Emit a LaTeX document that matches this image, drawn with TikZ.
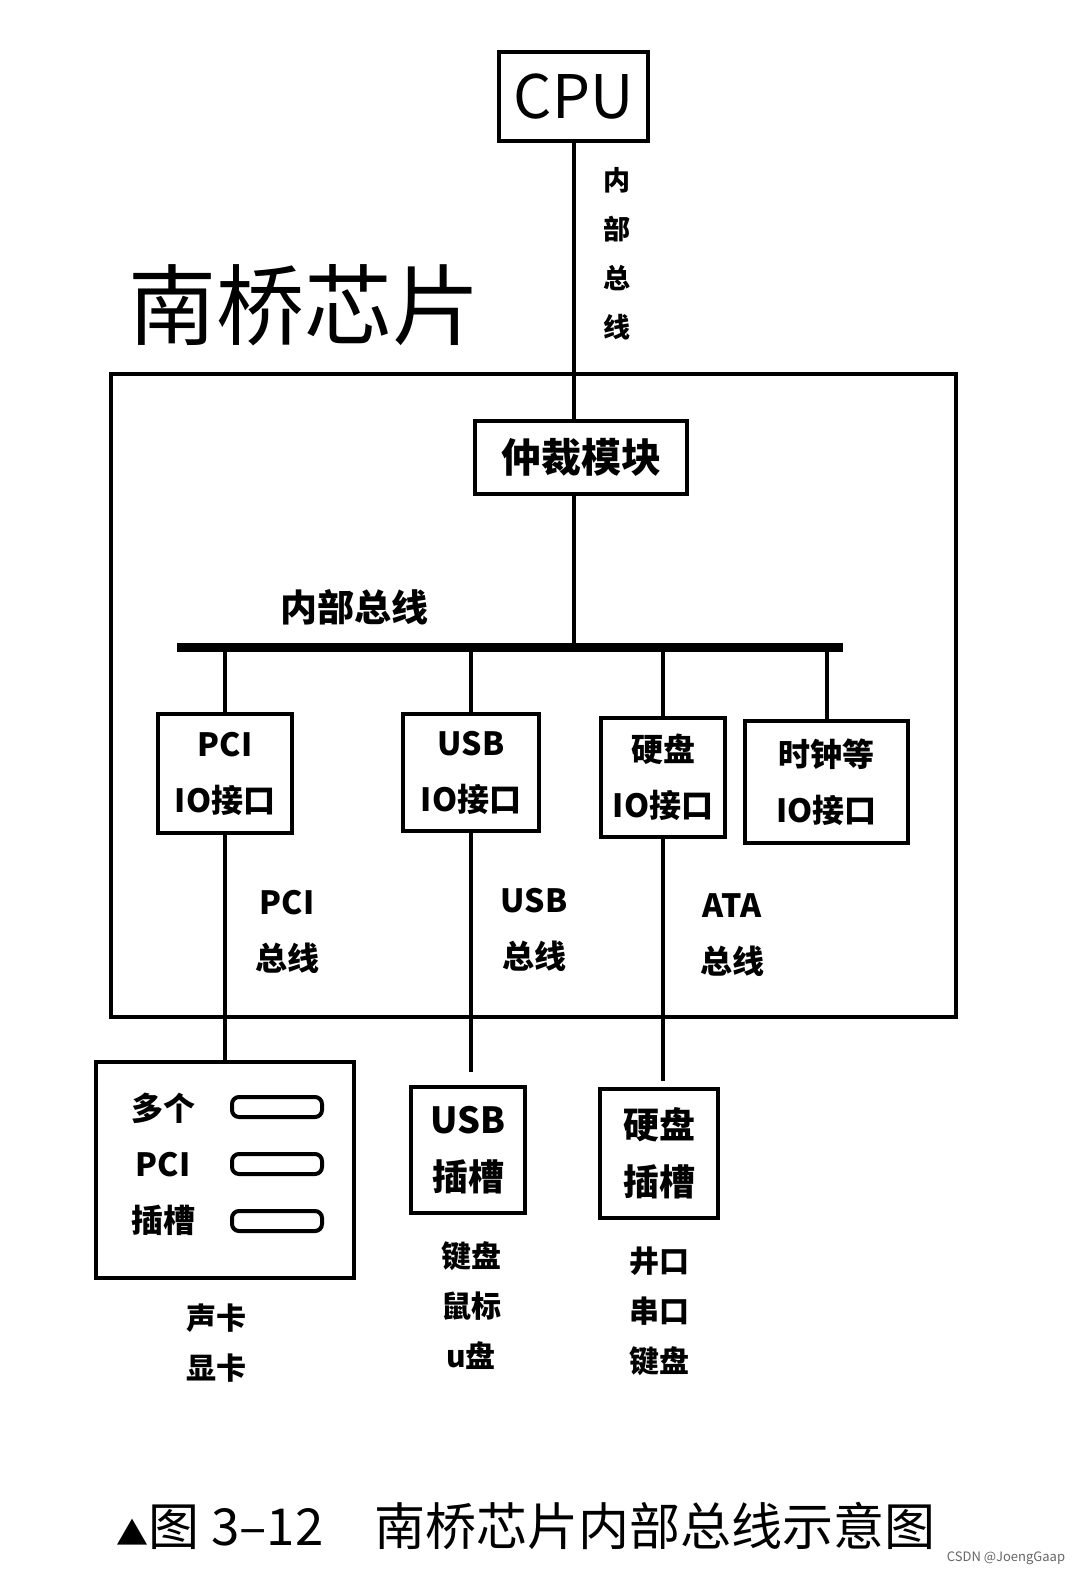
\documentclass[tikz,border=0pt]{standalone}
\usepackage{fontspec}
\setmainfont{Noto Sans CJK SC}
\usetikzlibrary{positioning}

\begin{document}
\begin{tikzpicture}[x=1pt,y=-1pt,
    box/.style={draw,line width=4.5pt,inner sep=0pt,align=center},
    wire/.style={line width=4pt},
    tag/.style={align=center,inner sep=0pt,font=\bfseries\fontsize{32}{56}\selectfont},
    slotbar/.style={draw,line width=4pt,rounded corners=7pt,minimum width=90pt,minimum height=20pt}]
\useasboundingbox[fill=white] (0,0) rectangle (1091,1578);
% CPU and the chip outline
\node[box,minimum width=149pt,minimum height=89pt,font=\fontsize{60}{60}\selectfont] (cpu) at (573.5,96.5) {CPU};
\node[align=center,inner sep=0pt,font=\bfseries\fontsize{27}{49}\selectfont] (cpubus) at (617,254) {内\\部\\总\\线};
\node[inner sep=0pt,font=\fontsize{88}{88}\selectfont] (title) at (304,305) {南桥芯片};
\node[box,minimum width=845pt,minimum height=643pt] (chip) at (533.5,695.5) {};
\node[box,minimum width=212pt,minimum height=73pt,font=\bfseries\fontsize{40}{40}\selectfont] (arb) at (581,457.5) {仲裁模块};
\draw[wire] (cpu.south) -- (cpu.south |- arb.north);

% internal bus
\coordinate (busL) at (177,647);
\coordinate (busR) at (843,647);
\draw[line width=9pt] (busL) -- (busR);
\node[tag,font=\bfseries\fontsize{37}{37}\selectfont] (buslbl) at (354,607) {内部总线};
\draw[wire] (arb.south -| cpu.south) -- (cpu.south |- busL);

% IO interfaces
\node[box,tag,minimum width=134pt,minimum height=119pt] (pciio) at (225,773.5) {PCI\\IO接口};
\node[box,tag,minimum width=136pt,minimum height=117pt] (usbio) at (471,772.5) {USB\\IO接口};
\node[box,tag,minimum width=124pt,minimum height=119pt] (hddio) at (663,777.5) {硬盘\\IO接口};
\node[box,tag,minimum width=163pt,minimum height=122pt] (clkio) at (826.5,782) {时钟等\\IO接口};
\foreach \io in {pciio,usbio,hddio,clkio}
    \draw[wire] (\io.north |- busL) -- (\io.north);

% bus names
\node[tag] (pcibus) at (287,932) {PCI\\总线};
\node[tag] (usbbus) at (534,930) {USB\\总线};
\node[tag] (atabus) at (732,935) {ATA\\总线};

% slots outside the chip
\node[box,minimum width=258pt,minimum height=216pt] (pcislot) at (225,1170) {};
\node[tag] (pcitxt) at (163,1164) {多个\\PCI\\插槽};
\node[slotbar] (bar1) at (277,1107) {};
\node[slotbar] (bar2) at (277,1164) {};
\node[slotbar] (bar3) at (277,1221) {};
\node[box,tag,font=\bfseries\fontsize{36}{57}\selectfont,minimum width=114pt,minimum height=126pt] (usbslot) at (468,1150) {USB\\插槽};
\node[box,tag,font=\bfseries\fontsize{36}{57}\selectfont,minimum width=118pt,minimum height=129pt] (hddslot) at (659,1153.5) {硬盘\\插槽};
\draw[wire] (pciio.south) -- (pciio.south |- pcislot.north);
\draw[wire,shorten >=13pt] (usbio.south) -- (usbio.south |- usbslot.north);
\draw[wire,shorten >=6pt] (hddio.south) -- (hddio.south |- hddslot.north);

% devices
\node[tag,font=\bfseries\fontsize{30}{50}\selectfont] (pcidev) at (216,1343) {声卡\\显卡};
\node[tag,font=\bfseries\fontsize{30}{50}\selectfont] (usbdev) at (471,1306) {键盘\\鼠标\\u盘};
\node[tag,font=\bfseries\fontsize{30}{50}\selectfont] (hdddev) at (659,1311) {井口\\串口\\键盘};

% caption
\node[inner sep=0pt,font=\fontsize{51}{51}\selectfont] (caption) at (526,1526) {{\fontsize{32}{32}\selectfont▲}图 3–12\hspace{1em}南桥芯片内部总线示意图};
\node[inner sep=0pt,text=black!60,font=\fontsize{13}{13}\selectfont] (mark) at (1006,1558) {CSDN @JoengGaap};
\end{tikzpicture}
\end{document}
